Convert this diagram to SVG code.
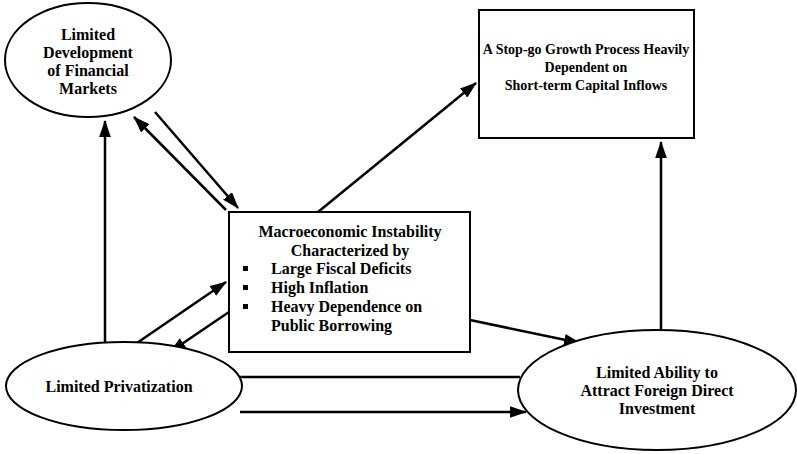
<svg xmlns="http://www.w3.org/2000/svg" width="797" height="454" viewBox="0 0 797 454">
<style>
.n{fill:#fff;stroke:#000;stroke-width:2}
.t{font-family:"Liberation Serif","Times New Roman",serif;font-weight:bold;font-size:16px;fill:#000}
.s{font-size:14px}
.c{text-anchor:middle}
.e{stroke:#000;stroke-width:2.5;fill:none;marker-end:url(#ah)}
</style>
<defs>
<marker id="ah" viewBox="0 0 16 11" refX="15" refY="5.5" markerWidth="6.8" markerHeight="4.7" markerUnits="strokeWidth" orient="auto">
<path d="M0,0 L16,5.5 L0,11 z" fill="#000"/>
</marker>
</defs>
<rect width="797" height="454" fill="#fff"/>
<g id="edges">
<line class="e" x1="105" y1="344" x2="105" y2="121"/>
<line class="e" x1="226" y1="210" x2="134" y2="117"/>
<line class="e" x1="155" y1="112" x2="238" y2="208"/>
<line class="e" x1="318" y1="212" x2="476" y2="83"/>
<line class="e" x1="134" y1="345" x2="226" y2="282"/>
<line class="e" x1="229" y1="312" x2="170" y2="352"/>
<line class="e" x1="470" y1="320" x2="580" y2="343"/>
<line class="e" x1="520" y1="377" x2="220" y2="377"/>
<line class="e" x1="240" y1="412" x2="526" y2="412"/>
<line class="e" x1="661" y1="330" x2="661" y2="142"/>
</g>
<g id="financial-markets">
<ellipse class="n" cx="88" cy="60" rx="83" ry="57"/>
<text class="t c" x="88" y="40">Limited</text>
<text class="t c" x="88" y="58">Development</text>
<text class="t c" x="88" y="76">of Financial</text>
<text class="t c" x="88" y="94">Markets</text>
</g>
<g id="stop-go">
<rect class="n" x="479" y="10" width="215" height="128"/>
<text class="t s c" x="586" y="54">A Stop-go Growth Process Heavily</text>
<text class="t s c" x="586" y="72">Dependent on</text>
<text class="t s c" x="586" y="90">Short-term Capital Inflows</text>
</g>
<g id="macro">
<rect class="n" x="229" y="212" width="241" height="140"/>
<text class="t c" x="350" y="237">Macroeconomic Instability</text>
<text class="t c" x="350" y="256">Characterized by</text>
<rect x="243" y="266" width="5" height="5" fill="#000"/>
<rect x="243" y="285" width="5" height="5" fill="#000"/>
<rect x="243" y="304" width="5" height="5" fill="#000"/>
<text class="t" x="271" y="274">Large Fiscal Deficits</text>
<text class="t" x="271" y="293">High Inflation</text>
<text class="t" x="271" y="312">Heavy Dependence on</text>
<text class="t" x="271" y="331">Public Borrowing</text>
</g>
<g id="privatization">
<ellipse class="n" cx="124" cy="386" rx="118" ry="44"/>
<text class="t c" x="119" y="392">Limited Privatization</text>
</g>
<g id="fdi">
<ellipse class="n" cx="657" cy="390" rx="139" ry="60"/>
<text class="t c" x="657" y="378">Limited Ability to</text>
<text class="t c" x="657" y="396">Attract Foreign Direct</text>
<text class="t c" x="657" y="414">Investment</text>
</g>
</svg>
